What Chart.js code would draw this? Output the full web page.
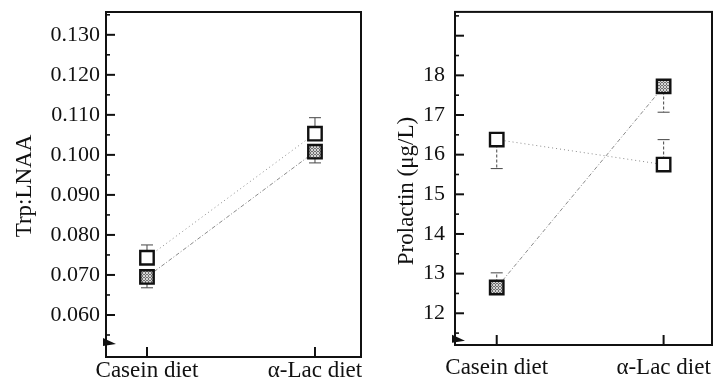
<!DOCTYPE html>
<html>
<head>
<meta charset="utf-8">
<script src="https://cdn.jsdelivr.net/npm/chart.js@4.4.1/dist/chart.umd.min.js"></script>
<style>
  html, body { margin: 0; padding: 0; background: #fff; }
  #wrap { position: relative; width: 716px; height: 390px; overflow: hidden; }
  .panel { position: absolute; top: 0; height: 390px; }
  #left { left: 0; width: 380px; }
  #right { left: 362px; width: 372px; }
</style>
</head>
<body>
<div id="wrap">
  <div class="panel" id="left"><canvas id="trpChart"></canvas></div>
  <div class="panel" id="right"><canvas id="prlChart"></canvas></div>
</div>
<script>
const dietLabels = ['Casein diet', 'α-Lac diet'];

// left panel: Trp:LNAA
const trpTicks = [0.060, 0.070, 0.080, 0.090, 0.100, 0.110, 0.120, 0.130];
const trpTickLabels = ['0.060', '0.070', '0.080', '0.090', '0.100', '0.110', '0.120', '0.130'];
const trpOpen = [0.0743, 0.1053];
const trpOpenErr = [0.0775, 0.1093];
const trpFilled = [0.0695, 0.1008];
const trpFilledErr = [0.0668, 0.0980];

// right panel: prolactin
const prlTicks = [12, 13, 14, 15, 16, 17, 18, 19];
const prlTickLabels = ['12', '13', '14', '15', '16', '17', '18', ''];
const prlOpen = [16.38, 15.75];
const prlOpenErr = [15.65, 16.38];
const prlFilled = [12.65, 17.72];
const prlFilledErr = [13.02, 17.07];

const serif = '"Liberation Serif", "DejaVu Serif", serif';

function stipple() {
    const c = document.createElement('canvas');
    c.width = 3; c.height = 3;
    const g = c.getContext('2d');
    g.fillStyle = '#d4d4d4';
    g.fillRect(0, 0, 3, 3);
    g.fillStyle = '#707070';
    g.fillRect(1, 0, 1, 1);
    g.fillRect(0, 1, 1, 1);
    g.fillRect(2, 1, 1, 1);
    g.fillRect(1, 2, 1, 1);
    return g.createPattern(c, 'repeat');
}

// majors from the tick list, minors half way between
function buildTicks(majors) {
    const step = majors[1] - majors[0];
    const out = [];
    out.push({ value: majors[0] - step / 2, major: false });
    majors.forEach(v => {
        out.push({ value: v, major: true });
        out.push({ value: v + step / 2, major: false });
    });
    return out;
}

const framePlugin = {
    id: 'frame',
    beforeDatasetsDraw(chart, args, opts) {
        const { ctx, scales: { x, y } } = chart;
        ctx.save();
        ctx.strokeStyle = '#555';
        ctx.lineWidth = 1.1;
        chart.data.datasets.forEach(ds => {
            ds.errorEnd.forEach((v, j) => {
                const px = x.getPixelForValue(j);
                const p0 = y.getPixelForValue(ds.data[j].y);
                const p1 = y.getPixelForValue(v);
                ctx.setLineDash(opts.errDash || []);
                ctx.beginPath();
                ctx.moveTo(px, p0);
                ctx.lineTo(px, p1);
                ctx.stroke();
                ctx.setLineDash([]);
                ctx.beginPath();
                ctx.moveTo(px - 6, p1);
                ctx.lineTo(px + 6, p1);
                ctx.stroke();
            });
        });
        ctx.restore();
    },
    afterDraw(chart, args, opts) {
        const { ctx, chartArea: a, scales: { x, y } } = chart;
        ctx.save();
        ctx.strokeStyle = '#111';
        ctx.lineWidth = 2;
        ctx.strokeRect(a.left, a.top, a.right - a.left, a.bottom - a.top);

        // inward ticks
        y.ticks.forEach(t => {
            const py = y.getPixelForValue(t.value);
            if (py < a.top + 1 || py > a.bottom - 1) return;
            ctx.lineWidth = t.major ? 2 : 1.6;
            ctx.beginPath();
            ctx.moveTo(a.left, py);
            ctx.lineTo(a.left + (t.major ? 9 : 4), py);
            ctx.stroke();
        });
        ctx.lineWidth = 2;
        x.ticks.forEach(t => {
            const px = x.getPixelForValue(t.value);
            ctx.beginPath();
            ctx.moveTo(px, a.bottom);
            ctx.lineTo(px, a.bottom - 10);
            ctx.stroke();
        });

        // axis break mark
        const by = y.getPixelForValue(opts.breakAt);
        ctx.fillStyle = '#111';
        ctx.beginPath();
        ctx.moveTo(a.left - 3, by - 5);
        ctx.lineTo(a.left + 10, by + 1);
        ctx.lineTo(a.left - 3, by + 3);
        ctx.closePath();
        ctx.fill();

        // y title
        ctx.fillStyle = '#111';
        ctx.font = '23px ' + serif;
        ctx.textAlign = 'center';
        ctx.textBaseline = 'middle';
        ctx.translate(opts.titleX, opts.titleY);
        ctx.rotate(-Math.PI / 2);
        ctx.fillText(opts.title, 0, 0);
        ctx.restore();
    }
};

function makeChart(id, cfg) {
    const fill = stipple();
    const toXY = arr => arr.map((v, i) => ({ x: i, y: v }));
    const pointBase = {
        pointStyle: 'rect',
        pointRadius: 9.5,
        pointHoverRadius: 9.5,
        pointBorderWidth: 2.4,
        pointBorderColor: '#111',
        borderColor: '#8a8a8a',
        borderWidth: 1,
        tension: 0
    };
    return new Chart(document.getElementById(id), {
        type: 'line',
        data: {
            datasets: [
                Object.assign({}, pointBase, {
                    label: 'open',
                    data: toXY(cfg.open),
                    errorEnd: cfg.openErr,
                    pointBackgroundColor: '#fff',
                    borderDash: cfg.openDash
                }),
                Object.assign({}, pointBase, {
                    label: 'filled',
                    data: toXY(cfg.filled),
                    errorEnd: cfg.filledErr,
                    pointBackgroundColor: fill,
                    borderDash: cfg.filledDash
                })
            ]
        },
        options: {
            responsive: true,
            maintainAspectRatio: false,
            animation: false,
            events: [],
            layout: { padding: cfg.padding },
            scales: {
                x: {
                    type: 'linear',
                    min: cfg.xMin,
                    max: cfg.xMax,
                    afterBuildTicks: s => { s.ticks = dietLabels.map((l, i) => ({ value: i })); },
                    afterFit: s => {
                        s.height = cfg.xHeight;
                        s.paddingLeft = 0;
                        s.paddingRight = 0;
                    },
                    ticks: {
                        autoSkip: false,
                        maxRotation: 0,
                        padding: cfg.xPad,
                        color: '#111',
                        font: { family: serif, size: 23 },
                        callback: (v, i) => dietLabels[i]
                    },
                    grid: { display: false, drawTicks: false, tickLength: 0 },
                    border: { display: false }
                },
                y: {
                    min: cfg.yMin,
                    max: cfg.yMax,
                    afterBuildTicks: s => { s.ticks = buildTicks(cfg.ticks); },
                    afterFit: s => {
                        s.width = cfg.yWidth;
                        s.paddingTop = 0;
                        s.paddingBottom = 0;
                    },
                    ticks: {
                        autoSkip: false,
                        padding: cfg.yPad,
                        color: '#111',
                        font: { family: serif, size: 22 },
                        callback: (v, i, ticks) => {
                            const k = cfg.ticks.indexOf(ticks[i].value);
                            return k >= 0 ? cfg.tickLabels[k] : '';
                        }
                    },
                    grid: { display: false, drawTicks: false, tickLength: 0 },
                    border: { display: false }
                }
            },
            plugins: {
                legend: { display: false },
                tooltip: { enabled: false },
                frame: {
                    title: cfg.title,
                    titleX: cfg.titleX,
                    titleY: cfg.titleY,
                    breakAt: cfg.breakAt,
                    errDash: cfg.errDash
                }
            }
        },
        plugins: [framePlugin]
    });
}

makeChart('trpChart', {
    open: trpOpen, openErr: trpOpenErr,
    filled: trpFilled, filledErr: trpFilledErr,
    openDash: [1, 3], filledDash: [4, 2, 1, 2],
    ticks: trpTicks, tickLabels: trpTickLabels,
    yMin: 0.0495, yMax: 0.1357,
    xMin: -0.244, xMax: 1.274,
    padding: { top: 12, right: 19, left: 0, bottom: 0 },
    yWidth: 106, xHeight: 33, xPad: 0, yPad: 6,
    title: 'Trp:LNAA', titleX: 25, titleY: 186,
    breakAt: 0.0530, errDash: []
});

makeChart('prlChart', {
    open: prlOpen, openErr: prlOpenErr,
    filled: prlFilled, filledErr: prlFilledErr,
    openDash: [1, 3], filledDash: [4, 2, 1, 2],
    ticks: prlTicks, tickLabels: prlTickLabels,
    yMin: 11.2, yMax: 19.6,
    xMin: -0.25, xMax: 1.29,
    padding: { top: 8, right: 22, left: 0, bottom: 0 },
    yWidth: 93, xHeight: 45, xPad: 9, yPad: 10,
    title: 'Prolactin (μg/L)', titleX: 45, titleY: 191,
    breakAt: 11.33, errDash: [3, 2]
});
</script>
</body>
</html>
